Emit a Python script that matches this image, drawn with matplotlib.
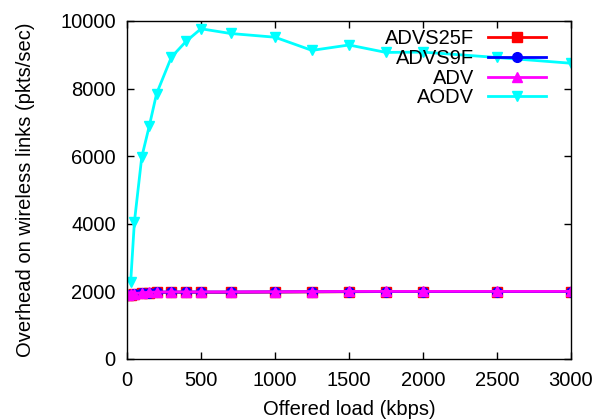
import matplotlib
matplotlib.use('Agg')
import matplotlib.pyplot as plt

plt.rcParams['font.family'] = ['Liberation Sans', 'DejaVu Sans']

# -------------------------
# Data
# -------------------------
load = [10, 25, 50, 100, 150, 200, 300, 400, 500, 700, 1000, 1250, 1500, 1750, 2000, 2500, 3000]
advs25f = [1880, 1900, 1920, 1945, 1960, 1970, 1975, 1975, 1975, 1975, 1980, 1985, 1990, 1995, 1995, 1995, 1995]
advs9f = [1890, 1905, 1925, 1950, 1965, 1975, 1980, 1980, 1980, 1980, 1985, 1990, 1995, 1995, 1995, 1995, 1995]
adv = [1900, 1915, 1935, 1960, 1975, 1980, 1985, 1985, 1985, 1985, 1990, 1995, 2000, 2000, 2000, 2000, 2000]

aodv_load = [25, 50, 100, 150, 200, 300, 400, 500, 700, 1000, 1250, 1500, 1750, 2000, 2500, 3000]
aodv = [2280, 4050, 5980, 6880, 7850, 8930, 9400, 9770, 9630, 9520, 9130, 9290, 9070, 9080, 8920, 8750]

xticks = [0, 500, 1000, 1500, 2000, 2500, 3000]
yticks = [0, 2000, 4000, 6000, 8000, 10000]

# -------------------------
# Plot
# -------------------------
fs = 14.5
fig = plt.figure(figsize=(5.97, 4.19), dpi=100)
ax = fig.add_axes([0.2127, 0.1432, 0.7437, 0.8067])

ax.plot(load, advs25f, color='#ff0000', marker='s', ms=7.5, lw=2, label='ADVS25F')
ax.plot(load, advs9f, color='#0000ff', marker='o', ms=7, lw=2, label='ADVS9F')
ax.plot(load, adv, color='#ff00ff', marker='^', ms=7, lw=2, label='ADV')
ax.plot(aodv_load, aodv, color='#00ffff', marker='v', ms=7, lw=2, label='AODV')

ax.set_xlim(0, 3000)
ax.set_ylim(0, 10000)
ax.set_xticks(xticks)
ax.set_yticks(yticks)
ax.tick_params(direction='in', length=5, width=1, top=True, right=True, labelsize=fs)
ax.tick_params(axis='y', pad=8)
ax.tick_params(axis='x', pad=9)
for s in ax.spines.values():
    s.set_linewidth(1)

ax.set_xlabel('Offered load (kbps)', fontsize=fs, labelpad=7)
ax.set_ylabel('Overhead on wireless links (pkts/sec)', fontsize=fs, labelpad=18)

leg = ax.legend(loc='upper right', bbox_to_anchor=(546 / 597, 1 - 29 / 419),
                bbox_transform=fig.transFigure, frameon=False, markerfirst=False,
                fontsize=fs, handlelength=2.9, handletextpad=0.68,
                labelspacing=0.04, borderpad=0, borderaxespad=0)

fig.savefig('out.png', dpi=100)
